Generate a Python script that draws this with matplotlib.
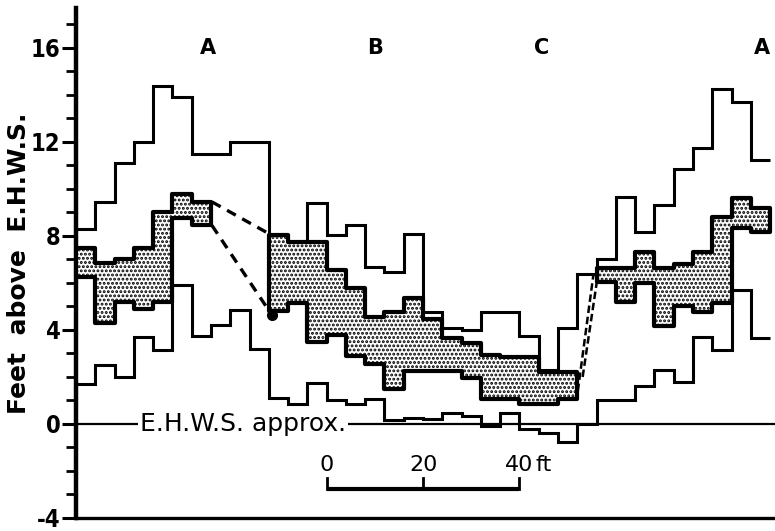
import numpy as np
import matplotlib
matplotlib.use("Agg")
import matplotlib.pyplot as plt

plt.rcParams['font.family'] = ['DejaVu Sans']
plt.rcParams['hatch.linewidth'] = 1.4

nan = np.nan

# 36 sampling steps, 4 ft each
bin_width = 4.0
edges = np.arange(37) * bin_width

upper = [8.3, 9.45, 11.1, 12.0, 14.4, 13.9, 11.5, 11.5, 12.0, 12.0,
         8.05, 7.75, 9.4, 8.05, 8.45, 6.7, 6.45, 8.1, 4.75, 4.1,
         4.0, 4.75, 4.75, 3.75, 2.3, 4.1, 6.4, 7.0, 9.65, 8.15,
         9.3, 10.85, 11.75, 14.25, 13.7, 11.25]

band_top = [7.5, 6.85, 7.0, 7.5, 9.0, 9.8, 9.45, nan, nan, nan,
            8.05, 7.75, 7.75, 6.55, 5.8, 4.55, 4.75, 5.35, 4.45, 3.65,
            3.45, 2.95, 2.85, 2.85, 2.2, 2.2, nan, 6.65, 6.65, 7.3,
            6.65, 6.8, 7.3, 8.8, 9.6, 9.2]

band_bot = [6.25, 4.3, 5.2, 4.9, 5.2, 8.75, 8.45, nan, nan, nan,
            4.8, 5.15, 3.5, 3.8, 2.9, 2.55, 1.5, 2.25, 2.25, 2.25,
            1.95, 1.05, 1.05, 0.85, 0.85, 1.05, nan, 6.05, 5.2, 6.0,
            4.15, 5.0, 4.75, 5.15, 8.35, 8.15]

lower = [1.7, 2.5, 2.0, 3.7, 3.15, 5.9, 3.75, 4.2, 4.85, 3.2,
         1.1, 0.85, 1.75, 1.0, 0.85, 1.05, 0.15, 0.25, 0.2, 0.45,
         0.35, -0.1, 0.45, -0.2, -0.4, -0.75, 0.0, 1.0, 1.0, 1.6,
         2.3, 1.8, 3.7, 3.15, 5.7, 3.65]

# dashed connections across the gaps in the band
dash_left_top = ([28.2, 40.0], [9.45, 8.1])
dash_left_bot = ([28.2, 40.6], [8.45, 4.65])
dash_right_a = ([104.1, 107.3], [1.4, 6.3])
dash_right_b = ([105.1, 108.3], [2.0, 6.4])

zone_names = ['A', 'B', 'C', 'A']
zone_x = [27.4, 62.0, 96.5, 142.3]

scale_start = 52.0
scale_ticks = [0, 20, 40]

fig = plt.figure(figsize=(7.75, 5.31), dpi=100)
ax = fig.add_axes([0.098, 0.0245, 0.902, 0.9605])

# zero line
ax.axhline(0, color='k', lw=1.6, zorder=1)
ax.text(13.2, 0, 'E.H.W.S. approx.', fontsize=18, va='center', ha='left',
        zorder=5, bbox=dict(facecolor='white', edgecolor='none', pad=1.5))

# stippled band, one patch per continuous run
top = np.array(band_top)
bot = np.array(band_bot)
ok = ~np.isnan(top)
i = 0
while i < len(top):
    if ok[i]:
        j = i
        while j < len(top) and ok[j]:
            j += 1
        xs = edges[i:j + 1]
        t = np.r_[top[i:j], top[j - 1]]
        b = np.r_[bot[i:j], bot[j - 1]]
        ax.fill_between(xs, b, t, step='post', facecolor='white',
                        hatch='....', edgecolor='k', lw=3.0, zorder=3)
        i = j
    else:
        i += 1

ax.stairs(upper, edges, baseline=None, color='k', lw=2.2, zorder=4)
ax.stairs(lower, edges, baseline=None, color='k', lw=2.2, zorder=4)

ax.plot(*dash_left_top, color='k', lw=2.4, ls=(0, (3, 2.2)), zorder=4)
ax.plot(*dash_left_bot, color='k', lw=2.4, ls=(0, (3, 2.2)), zorder=4)
ax.plot(dash_left_bot[0][-1], dash_left_bot[1][-1], 'o', color='k', ms=7, zorder=5)
ax.plot(*dash_right_a, color='k', lw=1.8, ls=(0, (3, 1.5)), zorder=4)
ax.plot(*dash_right_b, color='k', lw=1.8, ls=(0, (3, 1.5)), zorder=4)

for name, x in zip(zone_names, zone_x):
    ax.text(x, 16, name, fontsize=15, fontweight='bold', ha='center', va='center')

# scale bar
sx = [scale_start + s for s in scale_ticks]
ax.plot([sx[0], sx[-1]], [-2.75, -2.75], color='k', lw=3, solid_capstyle='butt')
for x, s in zip(sx, scale_ticks):
    ax.plot([x, x], [-2.75, -2.3], color='k', lw=2)
    ax.text(x, -1.75, str(s), fontsize=16, ha='center', va='center')
ax.text(sx[-1] + 3.4, -1.75, 'ft', fontsize=16, ha='left', va='center')

ax.set_xlim(0, 145)
ax.set_ylim(-4, 17.7)
ax.set_yticks([-4, 0, 4, 8, 12, 16])
ax.set_yticklabels(['-4', '0', '4', '8', '12', '16'])
ax.set_yticks(np.arange(-4, 18, 1), minor=True)
ax.set_xticks([])
ax.tick_params(axis='y', which='major', length=10, width=2.2, pad=1, labelsize=17)
ax.tick_params(axis='y', which='minor', length=7, width=2)
for lab in ax.get_yticklabels():
    lab.set_fontweight('bold')
    lab.set_fontstretch('condensed')
ax.spines['top'].set_visible(False)
ax.spines['right'].set_visible(False)
ax.spines['left'].set_linewidth(3.2)
ax.spines['bottom'].set_linewidth(2.4)

fig.text(0.024, 0.505, 'Feet  above  E.H.W.S.', rotation=90, fontsize=18,
         fontweight='bold', ha='center', va='center')

fig.savefig('out.png', dpi=100)
